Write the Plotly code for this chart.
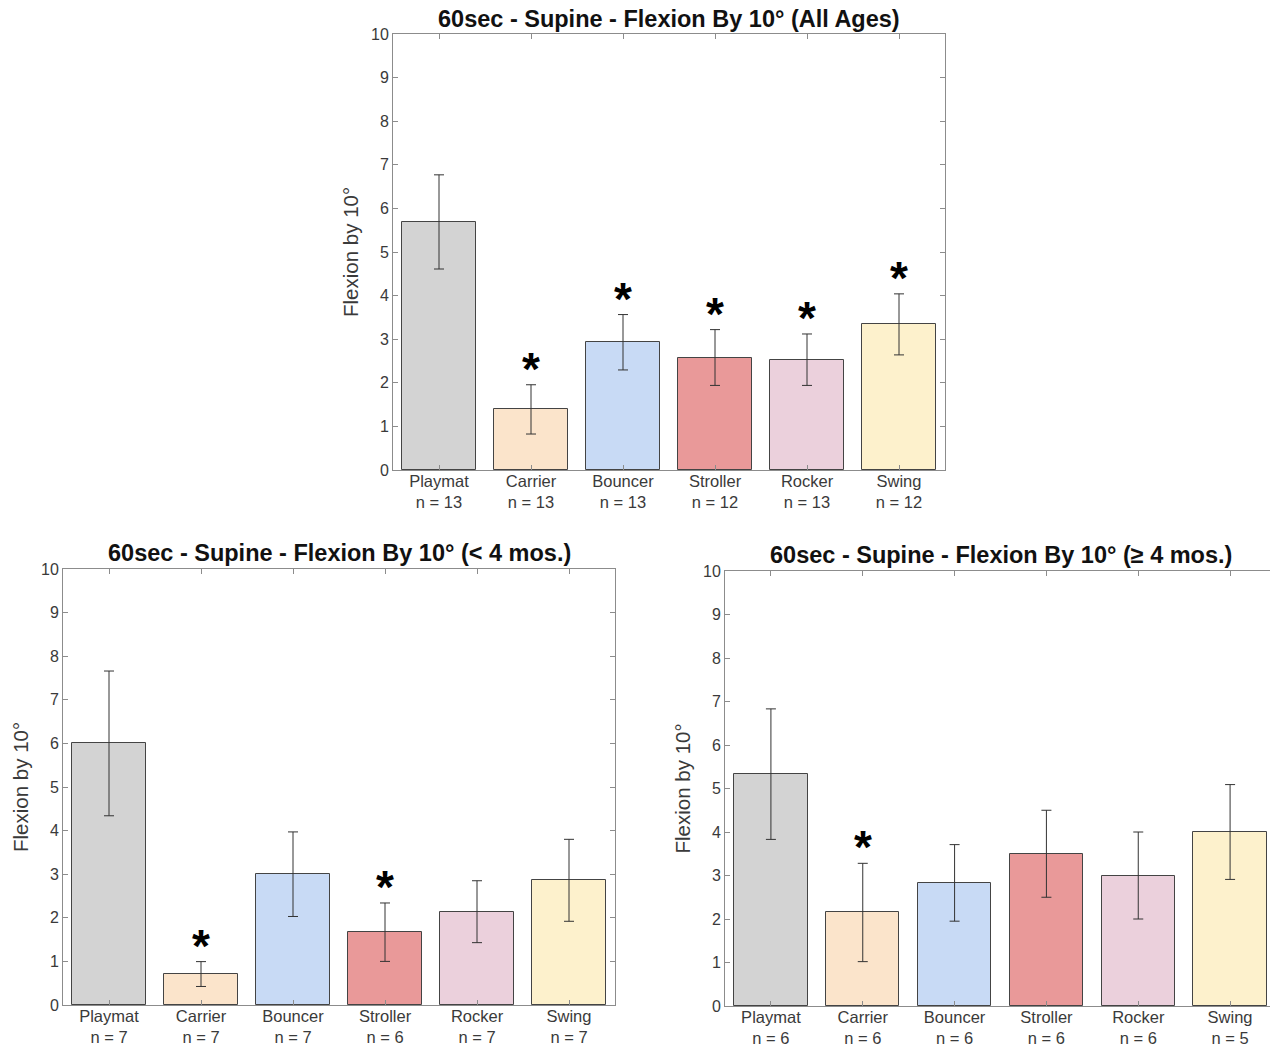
import plotly.graph_objects as go

# page offset (browser body margin) compensation
OFF = 8
W, H = 1278 - OFF, 1049 - OFF

categories = ["Playmat", "Carrier", "Bouncer", "Stroller", "Rocker", "Swing"]
bar_colors = ["#d3d3d3", "#fbe4cb", "#c8daf5", "#e99999", "#ebd0dc", "#fdf1cc"]

all_mean = [5.69, 1.39, 2.93, 2.58, 2.53, 3.34]
all_err = [1.08, 0.565, 0.635, 0.64, 0.59, 0.70]
all_n = [13, 13, 13, 12, 13, 12]
all_sig = [False, True, True, True, True, True]

young_mean = [6.0, 0.71, 3.0, 1.67, 2.14, 2.86]
young_err = [1.66, 0.285, 0.97, 0.67, 0.71, 0.94]
young_n = [7, 7, 7, 6, 7, 7]
young_sig = [False, True, False, True, False, False]

old_mean = [5.33, 2.15, 2.83, 3.5, 3.0, 4.0]
old_err = [1.5, 1.13, 0.88, 1.0, 1.0, 1.09]
old_n = [6, 6, 6, 6, 6, 5]
old_sig = [False, True, False, False, False, False]

titles = [
    "60sec - Supine - Flexion By 10° (All Ages)",
    "60sec - Supine - Flexion By 10° (< 4 mos.)",
    "60sec - Supine - Flexion By 10° (≥ 4 mos.)",
]
y_label = "Flexion by 10°"
y_ticks = list(range(0, 11))

# panel boxes in screen pixels: left, right, top, bottom
boxes = [(393, 945, 34, 470), (63, 615, 569, 1005), (725, 1276, 571, 1006)]

FONT = "Liberation Sans, Arial, sans-serif"
AX_COL = "#8c8c8c"
TXT = "#3a3a3a"


def px(x):
    return (x - OFF) / W


def py(y):
    return 1 - (y - OFF) / H


fig = go.Figure()
panels = [
    (all_mean, all_err, all_n, all_sig),
    (young_mean, young_err, young_n, young_sig),
    (old_mean, old_err, old_n, old_sig),
]
xs = list(range(1, len(categories) + 1))
annotations = []
for i, ((mean, err, n, sig), box, title) in enumerate(zip(panels, boxes, titles)):
    sfx = "" if i == 0 else str(i + 1)
    fig.add_trace(go.Bar(
        x=xs, y=mean, width=0.8,
        marker=dict(color=bar_colors, line=dict(color="#444444", width=1)),
        error_y=dict(type="data", array=err, color="#333333", thickness=1, width=5),
        xaxis="x" + sfx, yaxis="y" + sfx, showlegend=False, hoverinfo="skip",
    ))
    l, r, t, b = box
    xd = [px(l), px(r)]
    yd = [py(b), py(t)]
    ticktext = [f"{c}<br>n = {k}" for c, k in zip(categories, n)]
    fig.update_layout(**{
        "xaxis" + sfx: dict(
            domain=xd, range=[0.5, 6.5], tickvals=xs, ticktext=ticktext,
            ticks="inside", ticklen=5, tickcolor=AX_COL, showline=True,
            linecolor=AX_COL, linewidth=1, mirror="ticks", showgrid=False,
            zeroline=False, anchor="y" + sfx, fixedrange=True,
            ticklabelstandoff=-4,
            tickfont=dict(family=FONT, size=16.5, color=TXT),
        ),
        "yaxis" + sfx: dict(
            domain=yd, range=[0, 10], tickvals=y_ticks,
            ticks="inside", ticklen=5, tickcolor=AX_COL, showline=True,
            linecolor=AX_COL, linewidth=1, mirror="ticks", showgrid=False,
            zeroline=False, anchor="x" + sfx, fixedrange=True,
            tickfont=dict(family=FONT, size=16, color=TXT),
        ),
    })
    title_gap = 1 if i == 0 else 2
    annotations.append(dict(
        text="<b>" + title + "</b>", xref="paper", yref="paper",
        x=px((l + r) / 2), y=py(t - title_gap), xanchor="center", yanchor="bottom",
        borderpad=0, showarrow=False,
        font=dict(family=FONT, size=23.5, color="#111111"),
    ))
    annotations.append(dict(
        text=y_label, xref="paper", yref="paper", textangle=-90,
        x=px(l - 43), y=py((t + b) / 2), xanchor="center", yanchor="middle",
        showarrow=False, font=dict(family=FONT, size=20.5, color=TXT),
    ))
    for x, m, e, s in zip(xs, mean, err, sig):
        if s:
            annotations.append(dict(
                text="<b>*</b>", x=x, y=m + e, xref="x" + sfx, yref="y" + sfx,
                xanchor="center", yanchor="bottom", yshift=-12, showarrow=False,
                font=dict(family=FONT, size=46, color="#000000"),
            ))

fig.update_layout(
    width=W, height=H,
    margin=dict(l=0, r=0, t=0, b=0, pad=0, autoexpand=False),
    plot_bgcolor="white", paper_bgcolor="white",
    annotations=annotations, bargap=0,
)
fig.write_html("out.html")
